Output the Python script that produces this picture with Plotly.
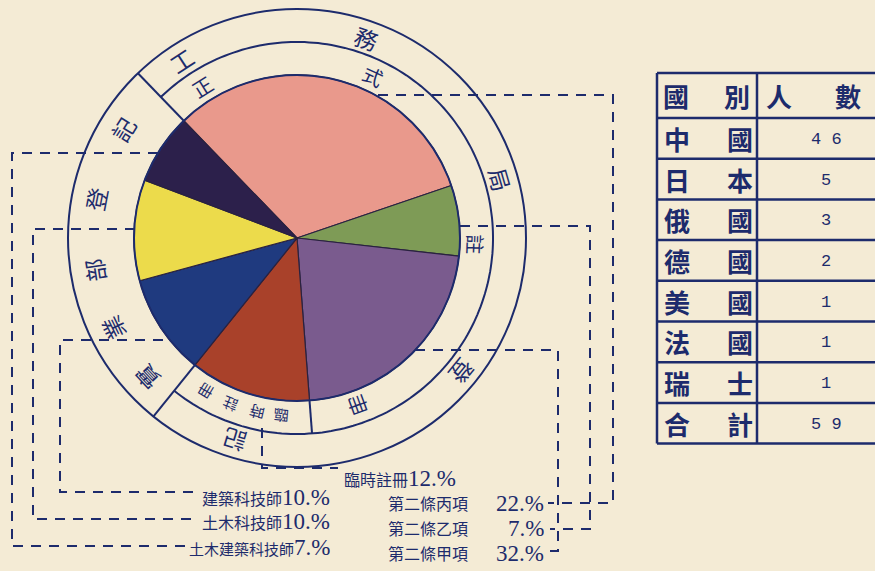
import numpy as np
import plotly.graph_objects as go

# data
categories = ["第二條甲項", "第二條乙項", "第二條丙項", "臨時註冊",
              "建築科技師", "土木科技師", "土木建築科技師"]
shares = [32, 7, 22, 12, 10, 10, 7]
colors = ["#e9998c", "#7e9b56", "#7a5b8e", "#a9412a", "#1f3a7f", "#ecdb4b", "#2c204b"]

countries = ["中國", "日本", "俄國", "德國", "美國", "法國", "瑞士"]
counts = [46, 5, 3, 2, 1, 1, 1]

outer_right = "工務局登記"
outer_left = "實業部登記"
inner_formal = "正式註冊"
inner_temp = "臨時註冊"

W, H = 875, 571
BG = "#f4ebd5"
INK = "#1d2b6c"
CX, CY = 297, 238
R_PIE, R_MID, R_OUT = 163, 196, 229
START = 316

def pt(theta, r):
    t = np.radians(theta)
    return CX + r * np.sin(t), CY - r * np.cos(t)

fig = go.Figure()

# invisible trace so the pixel-sized cartesian axes exist
fig.add_trace(go.Scatter(x=[0, W], y=[0, H], mode="markers", marker=dict(opacity=0),
                         hoverinfo="skip", showlegend=False))

fig.add_trace(go.Pie(
    labels=categories, values=shares, sort=False, direction="clockwise",
    rotation=START, textinfo="none", hoverinfo="skip", showlegend=False,
    marker=dict(colors=colors, line=dict(color="#2a2240", width=1.2)),
    domain=dict(x=[(CX - R_PIE) / W, (CX + R_PIE) / W],
                y=[1 - (CY + R_PIE) / H, 1 - (CY - R_PIE) / H]),
))

# slice boundary angles from the data
bounds = START + np.concatenate([[0], np.cumsum(shares)]) / sum(shares) * 360
a_formal_end = bounds[3] % 360
a_temp_end = bounds[4] % 360

shapes = []
line = dict(color=INK, width=2)
# rings
shapes.append(dict(type="circle", x0=CX - R_OUT, x1=CX + R_OUT, y0=CY - R_OUT, y1=CY + R_OUT,
                   line=line, layer="above"))
shapes.append(dict(type="circle", x0=CX - R_PIE, x1=CX + R_PIE, y0=CY - R_PIE, y1=CY + R_PIE,
                   line=line, layer="above"))
arc = np.linspace(START, a_temp_end + 360, 200)
xs, ys = pt(arc, R_MID)
path = "M " + " L ".join(f"{x:.1f},{y:.1f}" for x, y in zip(xs, ys))
shapes.append(dict(type="path", path=path, line=line, layer="above"))
# radial separators
for a, r1 in [(START, R_OUT), (a_temp_end, R_OUT), (a_formal_end, R_MID)]:
    x0, y0 = pt(a, R_PIE)
    x1, y1 = pt(a, r1)
    shapes.append(dict(type="line", x0=x0, y0=y0, x1=x1, y1=y1, line=line, layer="above"))

# leader lines
dash = dict(color=INK, width=2, dash="10px,8px")
leaders = {
    6: [(158, 153), (12, 153), (12, 546), (186, 546)],
    5: [(135, 229), (33, 229), (33, 519), (198, 519)],
    4: [(163, 340), (60, 340), (60, 492), (198, 492)],
    3: [(262, 428), (262, 468), (338, 468)],
    0: [(378, 95), (613, 95), (613, 503), (548, 503)],
    1: [(460, 226), (590, 226), (590, 529), (550, 529)],
    2: [(415, 350), (558, 350), (558, 551), (548, 551)],
}
for k, pts in leaders.items():
    p = "M " + " L ".join(f"{x},{y}" for x, y in pts)
    shapes.append(dict(type="path", path=p, line=dash, layer="above"))

ann = []
cjk = "Noto Sans CJK TC"

def ring_text(chars, angles, r, size):
    for c, a in zip(chars, angles):
        x, y = pt(a, r)
        ann.append(dict(x=x, y=y, text=c, showarrow=False, textangle=a % 360,
                        font=dict(family=cjk, size=size, color=INK),
                        xanchor="center", yanchor="middle"))

ring_text(outer_right, [327, 19, 74, 129, 197], 212, 23)
ring_text(outer_left, [227, 244, 261, 281, 302], 205, 23)
ring_text(inner_formal, [328, 25, 92, 160], 179, 20)
ring_text(inner_temp, [185, 193, 202, 211], 179, 15)

# slice labels
pct_font = "Liberation Serif"
PCT = 23
left_pos = {3: (458, 478), 4: (332, 497), 5: (332, 521), 6: (332, 547)}
for k, (x, y) in left_pos.items():
    fs = 15 if len(categories[k]) > 5 else 16
    txt = (f"<span style='font-family:{cjk};font-size:{fs}px'>{categories[k]}</span>"
           f"<span style='font-size:{PCT}px'>{shares[k]}.%</span>")
    ann.append(dict(x=x, y=y, text=txt, showarrow=False, xanchor="right", yanchor="middle",
                    height=22, font=dict(family=pct_font, size=PCT, color=INK)))
right_pos = {2: 503, 1: 528, 0: 553}
for k, y in right_pos.items():
    ann.append(dict(x=386, y=y, text=categories[k], showarrow=False, xanchor="left",
                    yanchor="middle", font=dict(family=cjk, size=16, color=INK)))
    ann.append(dict(x=546, y=y, text=f"{shares[k]}.%", showarrow=False, xanchor="right",
                    yanchor="middle", height=22, font=dict(family=pct_font, size=PCT, color=INK)))

# table
TX0, TX1, TXM = 657, 880, 757
TY0, ROWH, HEAD = 73, 40.7, 45
rows_y = [TY0, TY0 + HEAD] + [TY0 + HEAD + ROWH * (i + 1) for i in range(len(countries) + 1)]
tline = dict(color=INK, width=2.5)
for y in rows_y:
    shapes.append(dict(type="line", x0=TX0, x1=TX1, y0=y, y1=y, line=tline))
for x in [TX0, TXM]:
    shapes.append(dict(type="line", x0=x, x1=x, y0=rows_y[0], y1=rows_y[-1], line=tline))

tfont = dict(family=cjk, size=26, color=INK, weight="bold")
hy = (rows_y[0] + rows_y[1]) / 2
for c, x in zip("國別人數", [676, 737, 779, 848]):
    ann.append(dict(x=x, y=hy, text=c, showarrow=False, font=tfont, xanchor="center", yanchor="middle"))
labels = countries + ["合計"]
values = counts + [sum(counts)]
for i, (lab, v) in enumerate(zip(labels, values)):
    y = (rows_y[i + 1] + rows_y[i + 2]) / 2
    ann.append(dict(x=677, y=y, text=lab[0], showarrow=False, font=tfont, xanchor="center", yanchor="middle"))
    ann.append(dict(x=740, y=y, text=lab[1], showarrow=False, font=tfont, xanchor="center", yanchor="middle"))
    ann.append(dict(x=826, y=y + 1, text=" ".join(str(v)), showarrow=False,
                    font=dict(family="Liberation Mono", size=17, color=INK),
                    xanchor="center", yanchor="middle"))

fig.update_layout(
    width=W, height=H, margin=dict(l=0, r=0, t=0, b=0),
    paper_bgcolor=BG, plot_bgcolor=BG, showlegend=False,
    xaxis=dict(range=[0, W], visible=False, fixedrange=True),
    yaxis=dict(range=[H, 0], visible=False, fixedrange=True),
    shapes=shapes, annotations=ann,
)
fig.write_html("out.html", config={"displayModeBar": False},
               post_script="document.body.style.margin='0';")
